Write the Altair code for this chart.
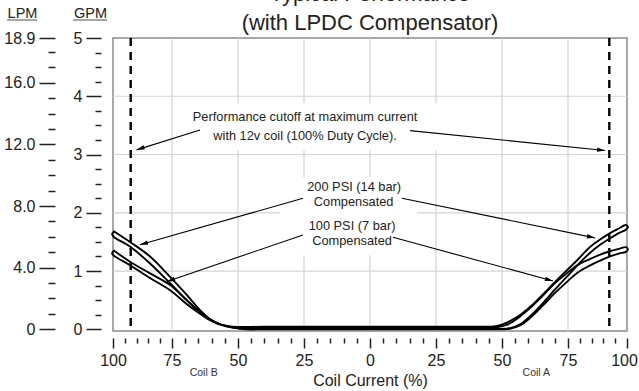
import math
import altair as alt
import pandas as pd

FONT = "Liberation Sans"
INK = "#222222"

# ---------------- data (x = coil current %, negative = Coil B; y = flow in GPM) ----------------
# 200 PSI (14 bar) compensated hysteresis loop, traced in drawing order
loop200_x = [-99.5, -92.8, -84.3, -75.8, -69.4, -64.4, -58.1, -52.0,
             -40, 0, 40,
             47, 50, 53, 57, 61, 65.5, 70.5, 74.5, 79, 84, 88.6, 92.8, 96.5, 99.5,
             100.4,
             99.5, 96.5, 92.8, 88.6, 84, 79, 74.5, 70, 65.5, 61, 57, 53, 49,
             40, 0, -40,
             -48, -54.3, -61.9, -69.4, -75.8, -84.3, -92.8, -99.5,
             -100.4, -99.5]
loop200_y = [1.68, 1.50, 1.25, 0.90, 0.59, 0.33, 0.10, 0.045,
             0.045, 0.045, 0.045,
             0.05, 0.08, 0.14, 0.25, 0.40, 0.60, 0.83, 1.01, 1.19, 1.40, 1.54, 1.65, 1.73, 1.79,
             1.75,
             1.71, 1.65, 1.56, 1.45, 1.30, 1.10, 0.90, 0.68, 0.45, 0.24, 0.09, 0.02, 0.005,
             0.01, 0.01, 0.01,
             0.01, 0.05, 0.19, 0.50, 0.79, 1.13, 1.42, 1.58,
             1.63, 1.68]

# 100 PSI (7 bar) compensated hysteresis loop
loop100_x = [-99.5, -92.8, -84.3, -75.8, -69.4, -61.9, -54.3, -49,
             -40, 0, 40,
             48, 52, 56, 60, 64.5, 69.3, 74.5, 79, 84, 88.6, 92.8, 96.5, 99.5,
             100.4,
             99.5, 96.5, 92.8, 88.6, 84, 79, 74.5, 70, 65.5, 61, 57, 53, 50,
             40, 0, -40,
             -47, -51.9, -59.3, -68.2, -75.8, -84.3, -92.8, -99.5,
             -100.4, -99.5]
loop100_y = [1.35, 1.16, 0.96, 0.76, 0.50, 0.21, 0.05, 0.03,
             0.03, 0.03, 0.03,
             0.035, 0.08, 0.19, 0.34, 0.53, 0.76, 0.96, 1.10, 1.20, 1.28, 1.34, 1.38, 1.41,
             1.37,
             1.33, 1.30, 1.25, 1.18, 1.09, 0.97, 0.81, 0.62, 0.41, 0.21, 0.07, 0.01, 0.0,
             0.0, 0.0, 0.0,
             0.0, 0.03, 0.13, 0.39, 0.67, 0.88, 1.10, 1.26,
             1.305, 1.35]

# performance cutoff (max current with 12v coil)
cutoff_x = [-92.5, 92.5]

# gridlines
grid_x = [-75, -50, -25, 0, 25, 50, 75]
grid_gpm = [1, 2, 3, 4]

# axis ticks
x_ticks = list(range(-100, 101, 5))
gpm_ticks = [i * 0.25 for i in range(21)]
lpm_ticks = [0, 1, 2, 3, 4, 5, 6, 7, 8, 9, 10, 11, 12, 13, 14, 15, 16, 17, 18, 18.9]
lpm_major = [0, 4, 8, 12, 16, 18.9]

# annotations
note_text = ["Performance cutoff at maximum current", "with 12v coil (100% Duty Cycle).",
             "200 PSI (14 bar)", "Compensated", "100 PSI (7 bar)", "Compensated"]
note_x = [-24.6, -24.6, -6.0, -6.2, -6.8, -6.8]
note_y = [3.64, 3.32, 2.437, 2.18, 1.778, 1.521]

box_x1 = [-70.1, -34.1]
box_x2 = [26.5, 17.8]
box_y1 = [3.07, 1.27]
box_y2 = [3.88, 2.61]

arrow_x1 = [-64.4, 15.2, -25.4, 12.1, -25.4, 8.7]
arrow_y1 = [3.42, 3.41, 2.25, 2.25, 1.62, 1.58]
arrow_x2 = [-90.0, 90.7, -88.6, 86.4, -77.1, 69.3]
arrow_y2 = [3.08, 3.07, 1.45, 1.57, 0.82, 0.83]

coil_labels = ["Coil B", "Coil A"]
coil_x = [-63, 63]

# ---------------- tables ----------------
rows = []
for name, xs, ys in [("200", loop200_x, loop200_y), ("100", loop100_x, loop100_y)]:
    for i, (a, b) in enumerate(zip(xs, ys)):
        rows.append({"loop": name, "order": i, "x": a, "gpm": b})
curves_df = pd.DataFrame(rows)


def _px(v):
    # approximate pixel mapping of the piecewise x scale (only used for arrowhead angles)
    if v < -75:
        return (v + 100) * 59 / 25
    if v > 75:
        return 455 + (v - 75) * 59 / 25
    return 59 + (v + 75) * 396 / 150


def _py(v):
    return -v * 58.26


angles = []
for a, b, c, d in zip(arrow_x1, arrow_y1, arrow_x2, arrow_y2):
    dx = _px(c) - _px(a)
    dy = _py(d) - _py(b)
    angles.append((math.degrees(math.atan2(dx, -dy)) + 360) % 360)

arrows_df = pd.DataFrame({"x1": arrow_x1, "y1": arrow_y1, "x2": arrow_x2, "y2": arrow_y2,
                          "angle": angles})
notes_df = pd.DataFrame({"text": note_text, "x": note_x, "gpm": note_y})
boxes_df = pd.DataFrame({"x1": box_x1, "x2": box_x2, "y1": box_y1, "y2": box_y2})
coil_df = pd.DataFrame({"text": coil_labels, "x": coil_x})
one = pd.DataFrame({"a": [0]})

# ---------------- scales & axes ----------------
x_scale = alt.Scale(domain=[-100, -75, 75, 100], range=[0, 59, 455, 514])
y_scale = alt.Scale(domain=[-0.029, 5], nice=False, zero=False)
lpm_scale = alt.Scale(domain=[-0.11, 18.9], nice=False, zero=False)

x_axis = alt.Axis(
    values=x_ticks, orient="bottom", offset=7, domain=False, grid=False,
    tickSize={"condition": {"test": "datum.value % 25 === 0", "value": 10}, "value": 5},
    labelExpr="datum.value % 25 === 0 ? format(abs(datum.value), 'd') : ''",
    labelOffset={"condition": {"test": "datum.value === 100", "value": -3}, "value": 0},
    labelFontSize=16, labelPadding=4, labelFlush=False, labelOverlap=False, labelBound=False,
    title="Coil Current (%)", titleFontSize=16, titleFontWeight="normal", titlePadding=4,
)
gpm_axis = alt.Axis(
    values=gpm_ticks, orient="left", offset=12, domain=False, grid=False,
    tickSize={"condition": {"test": "datum.value % 1 === 0", "value": 15}, "value": 6},
    labelExpr="datum.value % 1 === 0 ? format(datum.value, 'd') : ''",
    labelFontSize=16, labelPadding=4, labelOverlap=False, labelBound=False, labelFlush=False,
    title="GPM", titleAngle=0, titleAlign="center", titleBaseline="alphabetic",
    titleX=-11, titleY=-21, titleFontSize=14.5, titleFontWeight="normal",
)
major_test = "indexof([0, 4, 8, 12, 16, 18.9], datum.value) >= 0"
lpm_axis = alt.Axis(
    values=lpm_ticks, orient="left", offset=58, domain=False, grid=False,
    tickSize={"condition": {"test": major_test, "value": 16}, "value": 7},
    labelExpr="datum.value === 0 ? '0' : (" + major_test + " ? format(datum.value, '.1f') : '')",
    labelFontSize=16, labelPadding=4, labelOverlap=False, labelBound=False, labelFlush=False,
    title="LPM", titleAngle=0, titleAlign="center", titleBaseline="alphabetic",
    titleX=-33, titleY=-21, titleFontSize=14.5, titleFontWeight="normal",
)

# ---------------- layers (every scale has a fixed domain, so independent copies line up) ----------------
grid_v = alt.Chart(pd.DataFrame({"x": grid_x})).mark_rule(color="#d4d4d4", strokeWidth=1.2).encode(
    x=alt.X("x:Q", scale=x_scale, axis=None))
grid_h = alt.Chart(pd.DataFrame({"gpm": grid_gpm})).mark_rule(color="#d4d4d4", strokeWidth=1.2).encode(
    y=alt.Y("gpm:Q", scale=y_scale, axis=None))
boxes = alt.Chart(boxes_df).mark_rect(fill="white").encode(
    x=alt.X("x1:Q", scale=x_scale, axis=None), x2="x2:Q",
    y=alt.Y("y1:Q", scale=y_scale, axis=None), y2="y2:Q")
cutoff = alt.Chart(pd.DataFrame({"x": cutoff_x})).mark_rule(
    color="black", strokeWidth=2.4, strokeDash=[8, 6]).encode(
    x=alt.X("x:Q", scale=x_scale, axis=None))
curves = alt.Chart(curves_df).mark_line(
    color="black", strokeWidth=1.9, interpolate="catmull-rom", strokeJoin="round", strokeCap="round").encode(
    x=alt.X("x:Q", scale=x_scale, axis=x_axis),
    y=alt.Y("gpm:Q", scale=y_scale, axis=gpm_axis),
    detail="loop:N", order="order:Q")
arrows = alt.Chart(arrows_df).mark_rule(color="black", strokeWidth=1.1).encode(
    x=alt.X("x1:Q", scale=x_scale, axis=None), y=alt.Y("y1:Q", scale=y_scale, axis=None),
    x2="x2:Q", y2="y2:Q")
heads = alt.Chart(arrows_df).mark_point(
    shape="M0,0 L-0.28,1 L0.28,1 Z", filled=True, size=256, color="black", opacity=1, strokeWidth=0).encode(
    x=alt.X("x2:Q", scale=x_scale, axis=None), y=alt.Y("y2:Q", scale=y_scale, axis=None),
    angle=alt.Angle("angle:Q", scale=None))
notes = alt.Chart(notes_df).mark_text(
    font=FONT, fontSize=12.8, color=INK, align="center", baseline="middle").encode(
    x=alt.X("x:Q", scale=x_scale, axis=None), y=alt.Y("gpm:Q", scale=y_scale, axis=None), text="text:N")
coils = alt.Chart(coil_df).mark_text(
    font=FONT, fontSize=10.5, color="#333333", align="center", baseline="middle").encode(
    x=alt.X("x:Q", scale=x_scale, axis=None), y=alt.value(335), text="text:N")
ul_lpm = alt.Chart(one).mark_rule(color="#888888", strokeWidth=1.5).encode(
    x=alt.value(-106), x2=alt.value(-76), y=alt.value(-18))
ul_gpm = alt.Chart(one).mark_rule(color="#888888", strokeWidth=1.5).encode(
    x=alt.value(-40), x2=alt.value(-6), y=alt.value(-18))
lpm_layer = alt.Chart(pd.DataFrame({"lpm": lpm_major})).mark_point(opacity=0).encode(
    y=alt.Y("lpm:Q", scale=lpm_scale, axis=lpm_axis))

chart = alt.layer(grid_v, grid_h, boxes, cutoff, curves, arrows, heads, notes, coils,
                  ul_lpm, ul_gpm, lpm_layer).resolve_scale(
    x="independent", y="independent").properties(
    width=514, height=293,
    padding={"left": 113, "top": 38, "right": 12, "bottom": 60},
    autosize=alt.AutoSizeParams(type="none"),
    title=alt.TitleParams(
        text=["Typical Performance", "(with LPDC Compensator)"],
        font=FONT, fontSize=22, fontWeight="normal", color=INK,
        anchor="middle", frame="group", lineHeight=29, offset=0, dy=30),
).configure_view(stroke="#8a8a8a", strokeWidth=1.5).configure_axis(
    labelFont=FONT, titleFont=FONT, labelColor=INK, titleColor=INK,
    tickColor=INK, tickWidth=1.5)

chart.save("out.html", embed_options={"renderer": "svg", "actions": False})
